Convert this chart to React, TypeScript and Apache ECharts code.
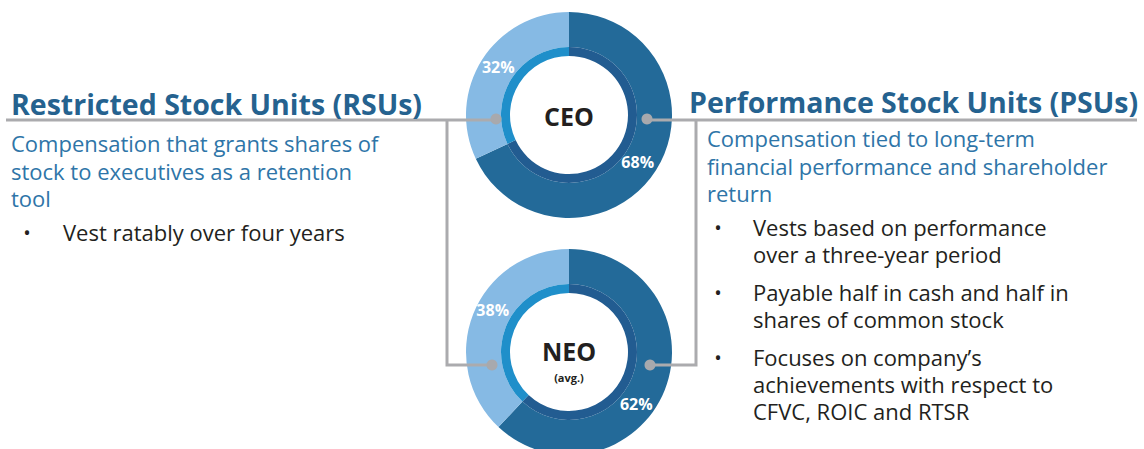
import React, { useEffect, useRef } from "react";
import * as echarts from "echarts";

const categories = ["Performance Stock Units (PSUs)", "Restricted Stock Units (RSUs)"];
const ceoValues = [68, 32];
const neoValues = [62, 38];
const ringLabels = ["CEO", "NEO"];

const rsuTitle = "Restricted Stock Units (RSUs)";
const rsuDesc = ["Compensation that grants shares of", "stock to executives as a retention", "tool"];
const rsuBullets = [["Vest ratably over four years"]];

const psuTitle = "Performance Stock Units (PSUs)";
const psuDesc = ["Compensation tied to long-term", "financial performance and shareholder", "return"];
const psuBullets = [
  ["Vests based on performance", "over a three-year period"],
  ["Payable half in cash and half in", "shares of common stock"],
  ["Focuses on company\u2019s", "achievements with respect to", "CFVC, ROIC and RTSR"],
];

const FONT = "'Open Sans', 'Noto Sans', sans-serif";
const DARK = "#236A99";
const LIGHT = "#86BAE4";
const IN_DARK = "#225C91";
const IN_LIGHT = "#1F8FCA";
const GREY = "#ABABAE";
const TITLE = "#25628F";
const SUB = "#2E75A8";
const BODY = "#231F20";

export default function App() {
  const ref = useRef<HTMLDivElement>(null);
  useEffect(() => {
    document.body.style.margin = "0";
    const chart = echarts.init(ref.current!, null, { renderer: "svg" });

    const ceoC = [569, 115];
    const neoC = [569, 352];
    const outerR: [number, number] = [68, 103];
    const innerR: [number, number] = [59, 68];

    const mk = (vals: number[]) =>
      vals.map((v, i) => ({
        value: v,
        name: categories[i],
        itemStyle: { color: i === 0 ? DARK : LIGHT },
      }));
    const mkIn = (vals: number[]) =>
      vals.map((v, i) => ({
        value: v,
        name: categories[i],
        itemStyle: { color: i === 0 ? IN_DARK : IN_LIGHT },
      }));

    const labelStyle = {
      show: true,
      position: "inside",
      formatter: "{c}%",
      color: "#fff",
      fontWeight: "bold",
      fontSize: 16,
      fontFamily: FONT,
    };
    const ceoOffsets = [
      { dx: -6, dy: 0 },
      { dx: 4, dy: -1 },
    ];
    const neoOffsets = [
      { dx: -15, dy: 19 },
      { dx: 6, dy: -9 },
    ];

    const base = {
      type: "pie",
      startAngle: 90,
      clockwise: true,
      silent: true,
      emphasis: { disabled: true },
      labelLine: { show: false },
      itemStyle: { borderWidth: 0 },
    };

    const graphic: any[] = [];
    const text = (x: number, y: number, t: string, size: number, color: string, weight = "normal", align = "left") =>
      graphic.push({
        type: "text",
        x,
        y,
        z: 20,
        style: {
          text: t,
          fontSize: size,
          fontWeight: weight,
          fontFamily: FONT,
          fill: color,
          textAlign: align,
          textVerticalAlign: "middle",
        },
      });
    // multi-line paragraph; y is the centre of the first line
    const para = (x: number, y: number, lines: string[], size: number, color: string, lh: number) =>
      graphic.push({
        type: "text",
        x,
        y: y - lh / 2,
        z: 20,
        style: {
          text: lines.join("\n"),
          fontSize: size,
          lineHeight: lh,
          fontFamily: FONT,
          fill: color,
          textAlign: "left",
          textVerticalAlign: "top",
        },
      });

    // connectors
    const lineStyle = { stroke: GREY, lineWidth: 3, fill: null };
    graphic.push({ type: "polyline", z: 15, shape: { points: [[6, 120], [496, 120]] }, style: lineStyle });
    graphic.push({ type: "polyline", z: 15, shape: { points: [[447, 120], [447, 365], [492, 365]] }, style: lineStyle });
    graphic.push({ type: "polyline", z: 15, shape: { points: [[647, 120], [1137, 120]] }, style: lineStyle });
    graphic.push({ type: "polyline", z: 15, shape: { points: [[696, 120], [696, 365], [650, 365]] }, style: lineStyle });
    [[496, 119], [647, 119], [492, 365], [650, 365]].forEach(([cx, cy]) =>
      graphic.push({ type: "circle", z: 16, shape: { cx, cy, r: 5.5 }, style: { fill: "#A8A9AD" } })
    );

    // center labels
    text(569, 116, ringLabels[0], 25, BODY, "bold", "center");
    text(569, 351, ringLabels[1], 25, BODY, "bold", "center");
    text(569, 377, "(avg.)", 11, BODY, "bold", "center");

    const BS = 22;
    // left block
    text(11, 104, rsuTitle, 28.5, TITLE, "bold");
    para(11, 143, rsuDesc, BS, SUB, 27.5);
    let y = 232;
    rsuBullets.forEach((b) => {
      text(27, y, "\u2022", 20, BODY, "normal", "center");
      para(63, y, b, BS, BODY, 27);
      y += b.length * 27 + 10;
    });

    // right block
    text(689, 102, psuTitle, 28.5, TITLE, "bold");
    para(707, 138, psuDesc, BS, SUB, 27.5);
    y = 227;
    psuBullets.forEach((b) => {
      text(718, y, "\u2022", 20, BODY, "normal", "center");
      para(753, y, b, BS, BODY, 27);
      y += b.length * 27 + 11;
    });

    chart.setOption({
      animation: false,
      series: [
        {
          ...base,
          name: "CEO",
          center: ceoC,
          radius: outerR,
          data: mk(ceoValues),
          label: labelStyle,
          labelLayout: (p: any) => ceoOffsets[p.dataIndex],
          z: 2,
        },
        { ...base, name: "CEO inner", center: ceoC, radius: innerR, data: mkIn(ceoValues), label: { show: false }, z: 2 },
        {
          ...base,
          name: "NEO",
          center: neoC,
          radius: outerR,
          data: mk(neoValues),
          label: labelStyle,
          labelLayout: (p: any) => neoOffsets[p.dataIndex],
          z: 2,
        },
        { ...base, name: "NEO inner", center: neoC, radius: innerR, data: mkIn(neoValues), label: { show: false }, z: 2 },
      ],
      graphic,
    });
    return () => chart.dispose();
  }, []);
  return <div ref={ref} style={{ width: 1144, height: 449 }} />;
}
